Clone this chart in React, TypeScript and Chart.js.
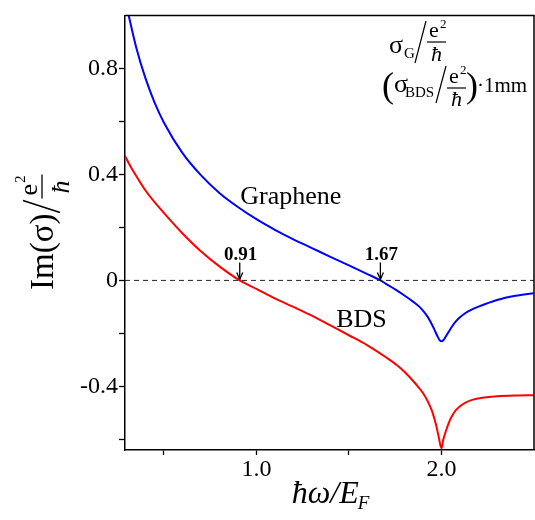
import React, { useEffect, useRef } from "react";
import { Chart, registerables } from "chart.js";

Chart.register(...registerables);

// ---- data ----
const grapheneX = [0.31, 0.35, 0.4, 0.45, 0.5, 0.6, 0.7, 0.8, 0.9, 1.0, 1.1, 1.2, 1.3, 1.4, 1.5, 1.6, 1.67, 1.7, 1.75, 1.8, 1.85, 1.88, 1.9, 1.92, 1.94, 1.96, 1.98, 1.99, 2.0, 2.01, 2.02, 2.04, 2.06, 2.08, 2.1, 2.13, 2.16, 2.2, 2.3, 2.4, 2.5];
const grapheneY = [1.0, 0.881, 0.764, 0.671, 0.596, 0.481, 0.397, 0.33, 0.277, 0.231, 0.191, 0.155, 0.122, 0.089, 0.057, 0.024, 0.0, -0.013, -0.034, -0.057, -0.082, -0.099, -0.114, -0.132, -0.155, -0.183, -0.213, -0.225, -0.23, -0.226, -0.216, -0.193, -0.171, -0.153, -0.139, -0.123, -0.111, -0.099, -0.074, -0.058, -0.048];

const bdsX = [0.29, 0.32, 0.35, 0.4, 0.45, 0.5, 0.6, 0.7, 0.8, 0.91, 1.0, 1.1, 1.2, 1.3, 1.4, 1.5, 1.6, 1.7, 1.76, 1.8, 1.86, 1.9, 1.93, 1.95, 1.97, 1.985, 2.0, 2.01, 2.02, 2.03, 2.045, 2.06, 2.08, 2.1, 2.13, 2.17, 2.22, 2.3, 2.4, 2.5];
const bdsY = [0.47, 0.43, 0.395, 0.34, 0.295, 0.255, 0.178, 0.11, 0.053, 0.0, -0.032, -0.068, -0.1, -0.133, -0.17, -0.207, -0.245, -0.29, -0.32, -0.345, -0.39, -0.425, -0.462, -0.495, -0.543, -0.59, -0.634, -0.6, -0.577, -0.556, -0.528, -0.508, -0.488, -0.475, -0.461, -0.45, -0.443, -0.437, -0.434, -0.433];

const xTickValues = [0.5, 1.0, 1.5, 2.0];
const xTickLabels = ["", "1.0", "", "2.0"];
const yTickValues = [-0.6, -0.4, -0.2, 0, 0.2, 0.4, 0.6, 0.8];
const yTickLabels = ["", "-0.4", "", "0", "", "0.4", "", "0.8"];

const crossingValues = [0.91, 1.67];
const crossingLabels = ["0.91", "1.67"];

const seriesNames = ["Graphene", "BDS"];

const X_MIN = 0.29;
const X_MAX = 2.5;
const Y_MIN = -0.64;
const Y_MAX = 1.0;

const SERIF = "'Liberation Serif', 'Times New Roman', serif";

function pts(xs: number[], ys: number[]) {
  return xs.map((x, i) => ({ x, y: ys[i] }));
}

const decorPlugin = {
  id: "decor",
  afterDraw(chart: any) {
    const ctx: CanvasRenderingContext2D = chart.ctx;
    const area = chart.chartArea;
    const xs = chart.scales.x;
    const ys = chart.scales.y;
    ctx.save();
    ctx.fillStyle = "#000";
    ctx.strokeStyle = "#000";

    // frame top & right
    ctx.lineWidth = 1.5;
    ctx.beginPath();
    ctx.moveTo(area.left, area.top);
    ctx.lineTo(area.right, area.top);
    ctx.lineTo(area.right, area.bottom);
    ctx.stroke();

    // crossing arrows + labels
    const zeroY = ys.getPixelForValue(0);
    crossingValues.forEach((v, i) => {
      const px = xs.getPixelForValue(v);
      ctx.lineWidth = 1.3;
      ctx.beginPath();
      ctx.moveTo(px, zeroY - 18);
      ctx.lineTo(px, zeroY - 1);
      ctx.stroke();
      ctx.beginPath();
      ctx.moveTo(px - 3, zeroY - 8);
      ctx.lineTo(px, zeroY - 1);
      ctx.lineTo(px + 3, zeroY - 8);
      ctx.stroke();
      ctx.font = "bold 19px " + SERIF;
      ctx.textAlign = "center";
      ctx.textBaseline = "alphabetic";
      ctx.fillText(crossingLabels[i], px + 1, zeroY - 20);
    });

    // curve labels
    ctx.font = "26px " + SERIF;
    ctx.textAlign = "center";
    ctx.fillText(seriesNames[0], xs.getPixelForValue(1.186), ys.getPixelForValue(0.29));
    ctx.fillText(seriesNames[1], xs.getPixelForValue(1.568), ys.getPixelForValue(-0.175));

    // top-right formula
    ctx.textAlign = "left";
    ctx.lineWidth = 1.2;
    ctx.font = "26px " + SERIF;
    ctx.fillText("σ", 389, 53);
    ctx.font = "15px " + SERIF;
    ctx.fillText("G", 404, 58);
    ctx.beginPath(); ctx.moveTo(415, 63); ctx.lineTo(426, 21); ctx.stroke();
    ctx.beginPath(); ctx.moveTo(427, 42); ctx.lineTo(446, 42); ctx.stroke();
    ctx.font = "22px " + SERIF;
    ctx.fillText("e", 429, 37);
    ctx.font = "13px " + SERIF;
    ctx.fillText("2", 440, 28);
    ctx.font = "italic 22px " + SERIF;
    ctx.fillText("ħ", 431, 61);
    ctx.font = "36px " + SERIF;
    ctx.fillText("(", 382, 97);
    ctx.font = "26px " + SERIF;
    ctx.fillText("σ", 394, 92);
    ctx.font = "15px " + SERIF;
    ctx.fillText("BDS", 405, 97);
    ctx.beginPath(); ctx.moveTo(436, 103); ctx.lineTo(446, 66); ctx.stroke();
    ctx.beginPath(); ctx.moveTo(447, 88); ctx.lineTo(466, 88); ctx.stroke();
    ctx.font = "22px " + SERIF;
    ctx.fillText("e", 449, 83);
    ctx.font = "13px " + SERIF;
    ctx.fillText("2", 460, 74);
    ctx.font = "italic 22px " + SERIF;
    ctx.fillText("ħ", 451, 106);
    ctx.font = "36px " + SERIF;
    ctx.fillText(")", 466, 97);
    ctx.font = "21px " + SERIF;
    ctx.fillText("·1mm", 477, 92);

    // x-axis title  ħω/E_F
    ctx.font = "italic 32px " + SERIF;
    const main = "ħω/E";
    const mw = ctx.measureText(main).width;
    ctx.font = "italic 19px " + SERIF;
    const sw = ctx.measureText("F").width;
    const startX = 331 - (mw + sw) / 2;
    ctx.font = "italic 32px " + SERIF;
    ctx.fillText(main, startX, 503);
    ctx.font = "italic 19px " + SERIF;
    ctx.fillText("F", startX + mw - 1, 509);

    // y-axis title (rotated)
    ctx.save();
    ctx.translate(53, 290);
    ctx.rotate(-Math.PI / 2);
    ctx.font = "33px " + SERIF;
    ctx.fillText("Im(σ)", 0, 0);
    const w = ctx.measureText("Im(σ)").width;
    ctx.lineWidth = 1.5;
    ctx.beginPath(); ctx.moveTo(w + 1, 7); ctx.lineTo(w + 13, -30); ctx.stroke();
    const fx = w + 15;
    ctx.lineWidth = 1.3;
    ctx.beginPath(); ctx.moveTo(fx, -11); ctx.lineTo(fx + 24, -11); ctx.stroke();
    ctx.font = "26px " + SERIF;
    ctx.fillText("e", fx + 3, -16);
    const ew = ctx.measureText("e").width;
    ctx.font = "15px " + SERIF;
    ctx.fillText("2", fx + 3 + ew + 1, -28);
    ctx.font = "italic 26px " + SERIF;
    ctx.fillText("ħ", fx + 5, 16);
    ctx.restore();

    ctx.restore();
  },
};

export default function App() {
  const ref = useRef<HTMLCanvasElement | null>(null);
  useEffect(() => {
    if (!ref.current) return;
    const chart = new Chart(ref.current, {
      type: "line",
      data: {
        datasets: [
          {
            label: "zero",
            data: [{ x: X_MIN, y: 0 }, { x: X_MAX, y: 0 }],
            borderColor: "#222",
            borderWidth: 1,
            borderDash: [5, 4],
            pointRadius: 0,
          },
          {
            label: seriesNames[0],
            data: pts(grapheneX, grapheneY),
            borderColor: "#0000ff",
            borderWidth: 2,
            pointRadius: 0,
            cubicInterpolationMode: "monotone",
          },
          {
            label: seriesNames[1],
            data: pts(bdsX, bdsY),
            borderColor: "#ff0000",
            borderWidth: 2,
            pointRadius: 0,
            cubicInterpolationMode: "monotone",
          },
        ],
      },
      options: {
        responsive: false,
        maintainAspectRatio: false,
        animation: false,
        layout: { padding: { top: 9, right: 1, left: 0, bottom: 0 } },
        plugins: { legend: { display: false }, tooltip: { enabled: false } },
        scales: {
          x: {
            type: "linear",
            min: X_MIN,
            max: X_MAX,
            afterBuildTicks: (s: any) => {
              s.ticks = xTickValues.map((v) => ({ value: v }));
            },
            afterFit: (s: any) => {
              s.height = 70;
            },
            ticks: {
              autoSkip: false,
              maxRotation: 0,
              padding: 0,
              color: "#000",
              font: { family: SERIF, size: 24 },
              callback: (_v: any, i: number) => xTickLabels[i],
            },
            grid: { drawOnChartArea: false, tickLength: 5, color: "#000", tickWidth: 1.3 },
            border: { color: "#000", width: 1.5 },
          },
          y: {
            type: "linear",
            min: Y_MIN,
            max: Y_MAX,
            afterBuildTicks: (s: any) => {
              s.ticks = yTickValues.map((v) => ({ value: v }));
            },
            afterFit: (s: any) => {
              s.width = 125;
            },
            ticks: {
              autoSkip: false,
              padding: 1,
              color: "#000",
              font: { family: SERIF, size: 24 },
              callback: (_v: any, i: number) => yTickLabels[i],
            },
            grid: { drawOnChartArea: false, tickLength: 6, color: "#000", tickWidth: 1.3 },
            border: { color: "#000", width: 1.5 },
          },
        },
      },
      plugins: [decorPlugin],
    } as any);
    return () => chart.destroy();
  }, []);
  return (
    <div style={{ position: "absolute", left: 0, top: 0, width: 535, height: 520, background: "#fff" }}>
      <canvas ref={ref} width={535} height={520} />
    </div>
  );
}
